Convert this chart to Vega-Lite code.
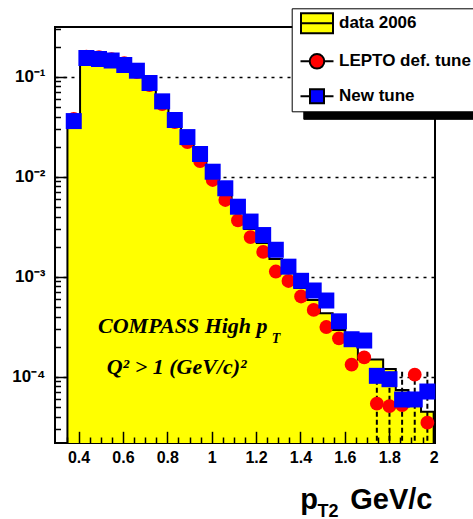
{
  "$schema": "https://vega.github.io/schema/vega-lite/v6.json",
  "width": 380,
  "height": 416,
  "autosize": {"type": "none"},
  "padding": {"left": 55, "top": 27, "right": 38, "bottom": 76},
  "background": "white",
  "config": {"view": {"stroke": "black", "strokeWidth": 2}, "font": "Liberation Sans"},
  "datasets": {
    "bins": [
      {"pt": 0.3785, "data": 0.0336, "lepto": 0.0378, "newtune": 0.0360},
      {"pt": 0.4354, "data": 0.140, "lepto": 0.159, "newtune": 0.1538},
      {"pt": 0.4923, "data": 0.137, "lepto": 0.157, "newtune": 0.1503},
      {"pt": 0.5492, "data": 0.131, "lepto": 0.150, "newtune": 0.1452},
      {"pt": 0.6061, "data": 0.119, "lepto": 0.137, "newtune": 0.1309},
      {"pt": 0.6630, "data": 0.104, "lepto": 0.111, "newtune": 0.1148},
      {"pt": 0.7199, "data": 0.0771, "lepto": 0.0826, "newtune": 0.0865},
      {"pt": 0.7768, "data": 0.0509, "lepto": 0.0533, "newtune": 0.0567},
      {"pt": 0.8337, "data": 0.0336, "lepto": 0.0352, "newtune": 0.0369},
      {"pt": 0.8906, "data": 0.0227, "lepto": 0.0222, "newtune": 0.0249},
      {"pt": 0.9475, "data": 0.01503, "lepto": 0.01435, "newtune": 0.01686},
      {"pt": 1.0044, "data": 0.00993, "lepto": 0.00927, "newtune": 0.01122},
      {"pt": 1.0613, "data": 0.00671, "lepto": 0.00585, "newtune": 0.00766},
      {"pt": 1.1182, "data": 0.00434, "lepto": 0.00365, "newtune": 0.00501},
      {"pt": 1.1750, "data": 0.00300, "lepto": 0.00249, "newtune": 0.00356},
      {"pt": 1.2319, "data": 0.00217, "lepto": 0.00177, "newtune": 0.00261},
      {"pt": 1.2888, "data": 0.00150, "lepto": 0.001127, "newtune": 0.00186},
      {"pt": 1.3457, "data": 0.00109, "lepto": 0.000906, "newtune": 0.00126},
      {"pt": 1.4026, "data": 0.000771, "lepto": 0.000634, "newtune": 0.000910},
      {"pt": 1.4595, "data": 0.000585, "lepto": 0.000465, "newtune": 0.000728},
      {"pt": 1.5164, "data": 0.000431, "lepto": 0.000314, "newtune": 0.000578},
      {"pt": 1.5733, "data": 0.000293, "lepto": 0.000242, "newtune": 0.000358},
      {"pt": 1.6302, "data": 0.000222, "lepto": 0.000132, "newtune": 0.000237},
      {"pt": 1.6871, "data": 0.000149, "lepto": 0.000156, "newtune": 0.000230},
      {"pt": 1.7440, "data": 0.000149, "lepto": 0.0000537, "newtune": 0.000102},
      {"pt": 1.8009, "data": 0.0001194, "lepto": 0.0000509, "newtune": 0.0000944},
      {"pt": 1.8578, "data": 0.0000736, "lepto": 0.0000521, "newtune": 0.0000592},
      {"pt": 1.9147, "data": 0.0000656, "lepto": 0.0001047, "newtune": 0.0000592},
      {"pt": 1.9716, "data": 0.0000447, "lepto": 0.0000347, "newtune": 0.0000711}
    ],
    "hist": [
      {"x": 0.3500, "y": 0.0336},
      {"x": 0.4069, "y": 0.140},
      {"x": 0.4638, "y": 0.137},
      {"x": 0.5207, "y": 0.131},
      {"x": 0.5776, "y": 0.119},
      {"x": 0.6345, "y": 0.104},
      {"x": 0.6914, "y": 0.0771},
      {"x": 0.7483, "y": 0.0509},
      {"x": 0.8052, "y": 0.0336},
      {"x": 0.8621, "y": 0.0227},
      {"x": 0.9190, "y": 0.01503},
      {"x": 0.9759, "y": 0.00993},
      {"x": 1.0328, "y": 0.00671},
      {"x": 1.0897, "y": 0.00434},
      {"x": 1.1466, "y": 0.00300},
      {"x": 1.2034, "y": 0.00217},
      {"x": 1.2603, "y": 0.00150},
      {"x": 1.3172, "y": 0.00109},
      {"x": 1.3741, "y": 0.000771},
      {"x": 1.4310, "y": 0.000585},
      {"x": 1.4879, "y": 0.000431},
      {"x": 1.5448, "y": 0.000293},
      {"x": 1.6017, "y": 0.000222},
      {"x": 1.6586, "y": 0.000149},
      {"x": 1.7155, "y": 0.000149},
      {"x": 1.7724, "y": 0.0001194},
      {"x": 1.8293, "y": 0.0000736},
      {"x": 1.8862, "y": 0.0000656},
      {"x": 1.9431, "y": 0.0000447},
      {"x": 2.0000, "y": 0.0000447}
    ],
    "errs": [
      {"pt": 1.7440, "lo": 0.000001, "hi": 0.000122},
      {"pt": 1.8009, "lo": 0.000001, "hi": 0.000122},
      {"pt": 1.8578, "lo": 0.000001, "hi": 0.000117},
      {"pt": 1.9147, "lo": 0.000001, "hi": 0.000120},
      {"pt": 1.9716, "lo": 0.000001, "hi": 0.000117}
    ],
    "one": [{}]
  },
  "resolve": {"axis": {"x": "independent", "y": "independent"}},
  "layer": [
    {
      "data": {"name": "hist"},
      "mark": {"type": "area", "interpolate": "step-after", "stroke": "black", "strokeWidth": 2, "opacity": 1, "clip": true},
      "encoding": {
        "x": {"field": "x", "type": "quantitative",
          "scale": {"domain": [0.294, 2.006], "nice": false, "zero": false},
          "axis": {"values": [0.4, 0.6, 0.8, 1, 1.2, 1.4, 1.6, 1.8, 2], "format": "~g", "orient": "bottom", "ticks": false, "domain": false, "grid": false, "labelFont": "Liberation Sans", "labelFontWeight": "bold", "labelFontSize": 16, "labelColor": "black", "labelPadding": 6, "labelFlush": false, "labelOverlap": false, "title": null, "zindex": 1}},
        "y": {"field": "y", "type": "quantitative", "stack": null,
          "scale": {"type": "log", "domain": [0.00002173, 0.3141], "nice": false},
          "axis": {"values": [0.0001, 0.001, 0.01, 0.1], "orient": "left", "ticks": false, "domain": false, "grid": true, "gridColor": "black", "gridDash": [3, 5], "gridWidth": 1.5, "gridOpacity": 1, "labelExpr": "datum.value > 0.05 ? '10⁻¹' : datum.value > 0.005 ? '10⁻²' : datum.value > 0.0005 ? '10⁻³' : '10⁻⁴'", "labelFont": "Liberation Sans", "labelFontWeight": "bold", "labelFontSize": 17, "labelColor": "black", "labelPadding": 10, "title": null, "zindex": 0}},
        "y2": {"datum": 0.0000001},
        "color": {"datum": "data", "type": "nominal",
          "scale": {"domain": ["data", "lepto", "newtune"], "range": ["#ffff00", "#ff0000", "#0000ff"]},
          "legend": {
            "title": null, "orient": "none", "direction": "vertical", "legendX": 236.7, "legendY": -18.7,
            "padding": 4, "fillColor": "white", "strokeColor": "black",
            "symbolSize": 400, "symbolStrokeWidth": 2, "rowPadding": 12, "symbolOffset": 10.3, "labelOffset": 11,
            "labelFont": "Liberation Sans", "labelFontSize": 17, "labelFontWeight": "bold", "labelColor": "black", "labelLimit": 300,
            "labelExpr": "datum.value === 'data' ? 'data 2006' : datum.value === 'lepto' ? 'LEPTO def. tune' : 'New tune'",
            "zindex": 2
          }}
      }
    },
    {
      "data": {"name": "errs"},
      "mark": {"type": "rule", "color": "black", "strokeWidth": 2, "strokeDash": [5, 3], "clip": true},
      "encoding": {
        "x": {"field": "pt", "type": "quantitative",
          "scale": {"domain": [0.294, 2.006], "nice": false, "zero": false},
          "axis": {"values": [0.4, 0.6, 0.8, 1, 1.2, 1.4, 1.6, 1.8, 2], "orient": "bottom", "ticks": true, "tickSize": -11.7, "tickWidth": 1.5, "tickColor": "black", "labels": false, "domain": false, "grid": false,
            "title": "p\u00a0\u00a0\u00a0\u00a0GeV/c", "titleFont": "Liberation Sans", "titleFontSize": 29, "titleFontWeight": "bold", "titleColor": "black", "titleX": 377, "titleY": 65, "titleAlign": "right", "titleBaseline": "alphabetic", "titleAnchor": "end", "zindex": 1}},
        "y": {"field": "lo", "type": "quantitative",
          "scale": {"type": "log", "domain": [0.00002173, 0.3141], "nice": false},
          "axis": {"values": [0.0001, 0.001, 0.01, 0.1], "orient": "left", "ticks": true, "tickSize": -11.7, "tickWidth": 1.5, "tickColor": "black", "labels": false, "domain": false, "grid": false, "title": null, "zindex": 1}},
        "y2": {"field": "hi"}
      }
    },
    {
      "data": {"name": "bins"},
      "mark": {"type": "point", "shape": "circle", "filled": true, "size": 190, "opacity": 1},
      "encoding": {
        "x": {"field": "pt", "type": "quantitative",
          "scale": {"domain": [0.294, 2.006], "nice": false, "zero": false},
          "axis": {"values": [0.35, 0.45, 0.5, 0.55, 0.65, 0.7, 0.75, 0.85, 0.9, 0.95, 1.05, 1.1, 1.15, 1.25, 1.3, 1.35, 1.45, 1.5, 1.55, 1.65, 1.7, 1.75, 1.85, 1.9, 1.95], "orient": "bottom", "ticks": true, "tickSize": -6, "tickWidth": 1.5, "tickColor": "black", "labels": false, "domain": false, "grid": false,
            "title": "T2", "titleFont": "Liberation Sans", "titleFontSize": 18, "titleFontWeight": "bold", "titleColor": "black", "titleX": 262, "titleY": 73.7, "titleAlign": "left", "titleBaseline": "alphabetic", "titleAnchor": "start", "zindex": 1}},
        "y": {"field": "lepto", "type": "quantitative",
          "scale": {"type": "log", "domain": [0.00002173, 0.3141], "nice": false},
          "axis": {"values": [0.00003, 0.00004, 0.00005, 0.00006, 0.00007, 0.00008, 0.00009, 0.0002, 0.0003, 0.0004, 0.0005, 0.0006, 0.0007, 0.0008, 0.0009, 0.002, 0.003, 0.004, 0.005, 0.006, 0.007, 0.008, 0.009, 0.02, 0.03, 0.04, 0.05, 0.06, 0.07, 0.08, 0.09, 0.2, 0.3], "orient": "left", "ticks": true, "tickSize": -5.5, "tickWidth": 1.5, "tickColor": "black", "labels": false, "domain": false, "grid": false, "title": null, "zindex": 1}},
        "color": {"datum": "lepto", "type": "nominal", "scale": {"domain": ["data", "lepto", "newtune"], "range": ["#ffff00", "#ff0000", "#0000ff"]}, "legend": null}
      }
    },
    {
      "data": {"name": "bins"},
      "mark": {"type": "point", "shape": "square", "filled": true, "size": 256, "opacity": 1},
      "encoding": {
        "x": {"field": "pt", "type": "quantitative", "scale": {"domain": [0.294, 2.006], "nice": false, "zero": false}, "axis": null},
        "y": {"field": "newtune", "type": "quantitative", "scale": {"type": "log", "domain": [0.00002173, 0.3141], "nice": false}, "axis": null},
        "color": {"datum": "newtune", "type": "nominal", "scale": {"domain": ["data", "lepto", "newtune"], "range": ["#ffff00", "#ff0000", "#0000ff"]}, "legend": null}
      }
    },
    {
      "data": {"name": "one"},
      "mark": {"type": "point", "filled": true, "size": 10, "clip": true},
      "encoding": {
        "x": {"datum": 3.5, "type": "quantitative", "scale": {"domain": [0.294, 2.006], "nice": false, "zero": false}, "axis": null},
        "y": {"datum": 0.001, "type": "quantitative", "scale": {"type": "log", "domain": [0.00002173, 0.3141], "nice": false}, "axis": null},
        "shape": {"datum": "lepto", "type": "nominal",
          "scale": {"domain": ["data", "lepto", "newtune"], "range": [
            "M-1.6,-1H1.6V1H-1.6Z M-1.6,0H1.6",
            "M-1.65,0H-0.73 M0.73,0H1.65 M-0.73,0A0.73,0.73 0 1,0 0.73,0A0.73,0.73 0 1,0 -0.73,0Z",
            "M-1.65,0H-0.7 M0.7,0H1.65 M-0.7,-0.7H0.7V0.7H-0.7Z"]},
          "legend": {
            "title": null, "orient": "none", "direction": "vertical", "legendX": 236.7, "legendY": -18.7,
            "padding": 4, "fillColor": "white", "strokeColor": "black",
            "symbolSize": 400, "symbolStrokeWidth": 2, "rowPadding": 12, "symbolOffset": 10.3, "labelOffset": 11,
            "labelFont": "Liberation Sans", "labelFontSize": 17, "labelFontWeight": "bold", "labelColor": "black", "labelLimit": 300,
            "labelExpr": "datum.value === 'data' ? 'data 2006' : datum.value === 'lepto' ? 'LEPTO def. tune' : 'New tune'",
            "zindex": 2
          }}
      }
    },
    {
      "data": {"name": "one"},
      "mark": {"type": "text", "text": "COMPASS High p", "font": "Liberation Serif", "fontStyle": "italic", "fontWeight": "bold", "fontSize": 22, "align": "left", "baseline": "alphabetic", "color": "black"},
      "encoding": {
        "x": {"datum": 0.488, "type": "quantitative", "scale": {"domain": [0.294, 2.006], "nice": false, "zero": false}, "axis": null},
        "y": {"datum": 0.0002735, "type": "quantitative", "scale": {"type": "log", "domain": [0.00002173, 0.3141], "nice": false}, "axis": null},
        "opacity": {"datum": "s1", "type": "ordinal",
          "scale": {"domain": ["s1", "s2", "s3"], "range": [1, 1, 1]},
          "legend": {
            "title": null, "orient": "none", "direction": "vertical", "legendX": 248.3, "legendY": -11.2,
            "padding": 4, "fillColor": "black", "strokeColor": "black",
            "symbolType": "M-1.65,0H-0.73 M0.73,0H1.65 M-0.73,0A0.73,0.73 0 1,0 0.73,0A0.73,0.73 0 1,0 -0.73,0Z",
            "symbolSize": 400, "symbolStrokeWidth": 2, "rowPadding": 12, "symbolOffset": 10.3, "labelOffset": 11, "symbolOpacity": 0,
            "labelFont": "Liberation Sans", "labelFontSize": 17, "labelFontWeight": "bold", "labelColor": "black", "labelLimit": 300,
            "labelExpr": "datum.value === 's1' ? 'data 2006' : datum.value === 's2' ? 'LEPTO def. tune' : 'New tune'",
            "zindex": 1
          }}
      }
    },
    {
      "data": {"name": "one"},
      "mark": {"type": "text", "text": "T", "font": "Liberation Serif", "fontStyle": "italic", "fontWeight": "bold", "fontSize": 14, "align": "left", "baseline": "alphabetic", "color": "black"},
      "encoding": {
        "x": {"datum": 1.270, "type": "quantitative", "scale": {"domain": [0.294, 2.006], "nice": false, "zero": false}, "axis": null},
        "y": {"datum": 0.0002173, "type": "quantitative", "scale": {"type": "log", "domain": [0.00002173, 0.3141], "nice": false}, "axis": null}
      }
    },
    {
      "data": {"name": "one"},
      "mark": {"type": "text", "text": "Q² > 1 (GeV/c)²", "font": "Liberation Serif", "fontStyle": "italic", "fontWeight": "bold", "fontSize": 22, "align": "left", "baseline": "alphabetic", "color": "black"},
      "encoding": {
        "x": {"datum": 0.527, "type": "quantitative", "scale": {"domain": [0.294, 2.006], "nice": false, "zero": false}, "axis": null},
        "y": {"datum": 0.0001064, "type": "quantitative", "scale": {"type": "log", "domain": [0.00002173, 0.3141], "nice": false}, "axis": null}
      }
    }
  ]
}
